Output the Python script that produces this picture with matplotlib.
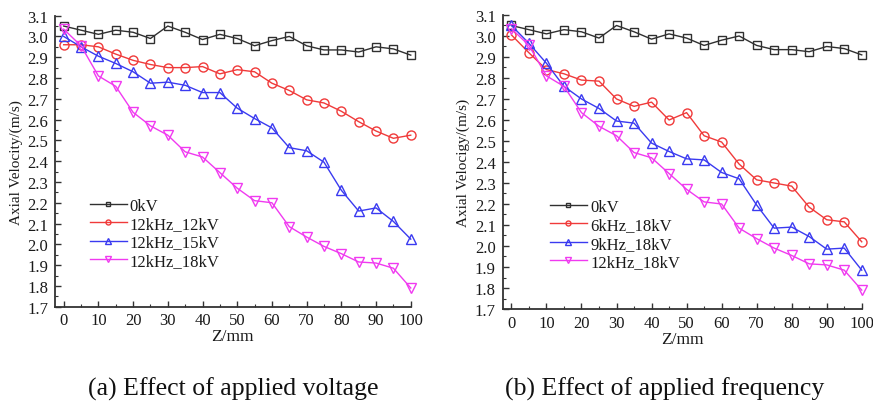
import matplotlib
matplotlib.use('Agg')
import matplotlib.pyplot as plt
from matplotlib.ticker import MultipleLocator

plt.rcParams['font.family'] = ['Liberation Serif', 'DejaVu Serif']

# positions le long de l'axe (mm)
z = [0, 5, 10, 15, 20, 25, 30, 35, 40, 45, 50, 55, 60, 65, 70, 75, 80, 85, 90, 95, 100]

# vitesse sans décharge
v_0kV = [3.05, 3.03, 3.01, 3.03, 3.02, 2.99, 3.05, 3.02, 2.985, 3.01, 2.99, 2.955, 2.98, 3.0,
         2.955, 2.935, 2.935, 2.925, 2.95, 2.94, 2.91]

# (a) effet de la tension
v_12kHz_12kV = [2.96, 2.96, 2.95, 2.915, 2.885, 2.865, 2.85, 2.85, 2.855, 2.82, 2.84, 2.83,
                2.775, 2.74, 2.695, 2.68, 2.64, 2.59, 2.545, 2.51, 2.525]
v_12kHz_15kV = [3.0, 2.95, 2.905, 2.87, 2.83, 2.775, 2.78, 2.765, 2.73, 2.73, 2.655, 2.605,
                2.56, 2.465, 2.45, 2.395, 2.26, 2.16, 2.175, 2.11, 2.025]
v_12kHz_18kV = [3.035, 2.955, 2.81, 2.76, 2.635, 2.57, 2.525, 2.445, 2.42, 2.345, 2.27, 2.21,
                2.2, 2.085, 2.035, 1.99, 1.955, 1.915, 1.91, 1.885, 1.79]

# (b) effet de la fréquence
v_6kHz_18kV = [3.005, 2.92, 2.84, 2.82, 2.79, 2.785, 2.7, 2.665, 2.685, 2.6, 2.635, 2.525,
               2.495, 2.39, 2.315, 2.3, 2.285, 2.185, 2.125, 2.115, 2.02]
v_9kHz_18kV = [3.05, 2.965, 2.87, 2.76, 2.7, 2.655, 2.595, 2.585, 2.49, 2.45, 2.415, 2.41,
               2.35, 2.32, 2.195, 2.085, 2.09, 2.045, 1.985, 1.99, 1.885]

labels_a = ['0kV', '12kHz_12kV', '12kHz_15kV', '12kHz_18kV']
labels_b = ['0kV', '6kHz_18kV', '9kHz_18kV', '12kHz_18kV']

couleurs = ['#303030', '#f03a3a', '#3a3af0', '#f03af0']
marqueurs = ['s', 'o', '^', 'v']
tailles = [5.5, 6.5, 7, 7]

txt = '#1a1a1a'

fig = plt.figure(figsize=(8.73, 4.14), dpi=100)

ax1 = fig.add_axes([0.063, 0.2568, 0.4075, 0.703])
ax2 = fig.add_axes([0.5758, 0.2512, 0.4113, 0.7102])


def trace(ax, series, labels, ylabel, leg_x):
    for s, lab, c, m, ms in zip(series, labels, couleurs, marqueurs, tailles):
        ax.plot(z, s, color=c, marker=m, markersize=ms, markerfacecolor='none',
                markeredgecolor=c, markeredgewidth=1.0, linewidth=1.0, label=lab,
                clip_on=False)
    ax.set_xlim(-2.5, 100)
    ax.set_ylim(1.7, 3.1)
    ax.xaxis.set_major_locator(MultipleLocator(10))
    ax.xaxis.set_minor_locator(MultipleLocator(5))
    ax.yaxis.set_major_locator(MultipleLocator(0.1))
    ax.yaxis.set_minor_locator(MultipleLocator(0.05))
    ax.yaxis.set_major_formatter(matplotlib.ticker.FormatStrFormatter('%.1f'))
    for sp in ['top', 'right']:
        ax.spines[sp].set_visible(False)
    for sp in ['left', 'bottom']:
        ax.spines[sp].set_linewidth(1.3)
        ax.spines[sp].set_color('#333333')
    ax.tick_params(which='major', direction='in', length=4, width=1, colors='#333333',
                   labelsize=12, labelcolor=txt)
    ax.tick_params(axis='y', which='major', pad=5)
    ax.tick_params(axis='x', which='major', pad=4)
    ax.tick_params(which='minor', direction='in', length=2, width=0.8, colors='#333333')
    ax.set_xlabel('Z/mm', fontsize=12.5, color=txt, labelpad=0)
    ax.set_ylabel(ylabel, fontsize=11, color=txt)
    ax.yaxis.set_label_coords(-0.09, 0.5)
    leg = ax.legend(loc='upper left', bbox_to_anchor=(leg_x, 0.375), frameon=False,
                    fontsize=12, handlelength=2.2, handletextpad=0.2, borderpad=0,
                    borderaxespad=0, labelspacing=0.15, markerscale=0.55)
    for t in leg.get_texts():
        t.set_color(txt)


trace(ax1, [v_0kV, v_12kHz_12kV, v_12kHz_15kV, v_12kHz_18kV], labels_a,
      'Axial Velocity/(m/s)', 0.098)
trace(ax2, [v_0kV, v_6kHz_18kV, v_9kHz_18kV, v_12kHz_18kV], labels_b,
      'Axial Velocigy/(m/s)', 0.132)

fig.text(233 / 873, 1 - 389 / 414, '(a) Effect of applied voltage', ha='center',
         va='center', fontsize=18.5, color='#111111')
fig.text(665 / 873, 1 - 389 / 414, '(b) Effect of applied frequency', ha='center',
         va='center', fontsize=18.5, color='#111111')

fig.savefig('out.png', dpi=100)
